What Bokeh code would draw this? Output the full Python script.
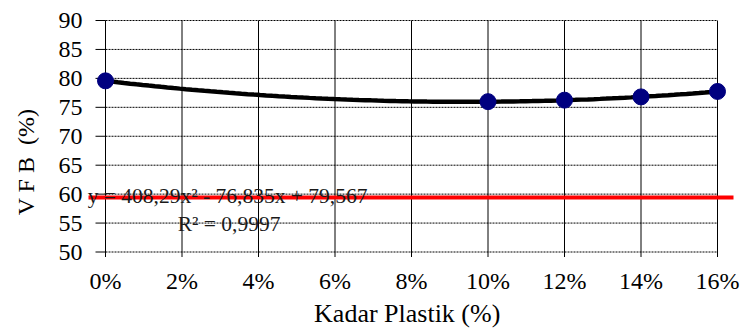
import numpy as np
from bokeh.plotting import figure
from bokeh.models import Range1d, Label
from bokeh.core.properties import value
from bokeh.embed import file_html
from bokeh.resources import INLINE

# data
kadar_plastik = [0.00, 0.10, 0.12, 0.14, 0.16]
vfb = [79.57, 75.98, 76.24, 76.80, 77.74]
trend_coef = [408.29, -76.835, 79.567]  # a x^2 + b x + c (Excel trendline)
batas_vfb = 59.4
x_ticks = [0.00, 0.02, 0.04, 0.06, 0.08, 0.10, 0.12, 0.14, 0.16]
x_tick_labels = ["0%", "2%", "4%", "6%", "8%", "10%", "12%", "14%", "16%"]
y_ticks = [50, 55, 60, 65, 70, 75, 80, 85, 90]
y_tick_labels = ["50", "55", "60", "65", "70", "75", "80", "85", "90"]
eq_text = "y = 408,29x\u00b2 - 76,835x + 79,567"
r2_text = "R\u00b2 = 0,9997"
y_title = "V F B \u00a0(%)"
x_title = "Kadar Plastik (%)"

FONT = value("Liberation Serif")
W, H = 741, 328
# pixel layout of the data grid inside the canvas
GX0, GX1, GY0, GY1 = 105, 717, 20, 251.5
sx = (x_ticks[-1] - x_ticks[0]) / (GX1 - GX0)      # data per px (x)
sy = (y_ticks[-1] - y_ticks[0]) / (GY1 - GY0)      # data per px (y)
X_LO = x_ticks[0] - GX0 * sx
X_HI = x_ticks[-1] + (W - GX1) * sx
Y_HI = y_ticks[-1] + GY0 * sy
Y_LO = y_ticks[0] - (H - GY1) * sy

p = figure(width=W, height=H, output_backend="svg", toolbar_location=None, title=None,
           x_range=Range1d(X_LO, X_HI), y_range=Range1d(Y_LO, Y_HI),
           x_axis_type=None, y_axis_type=None,
           min_border_left=0, min_border_right=0, min_border_top=0, min_border_bottom=0)
p.outline_line_color = None
p.background_fill_color = "white"
p.grid.visible = False

n = len(x_ticks)
m = len(y_ticks)
# vertical grid lines (solid)
p.segment(x0=x_ticks, x1=x_ticks, y0=[y_ticks[0]] * n, y1=[y_ticks[-1]] * n,
          line_color="black", line_width=1)
# x tick marks
p.segment(x0=x_ticks, x1=x_ticks, y0=[y_ticks[0]] * n, y1=[y_ticks[0] - 5 * sy] * n,
          line_color="black", line_width=1)
# horizontal grid lines (dotted)
p.segment(x0=[x_ticks[0]] * m, x1=[x_ticks[-1]] * m, y0=y_ticks, y1=y_ticks,
          line_color="black", line_dash="2 1", line_width=1)
# y tick marks
p.segment(x0=[x_ticks[0] - 10 * sx] * m, x1=[x_ticks[0]] * m, y0=y_ticks, y1=y_ticks,
          line_color="black", line_width=1)

# tick labels
p.text(x=[x_ticks[0] - 23 * sx] * m, y=y_ticks, text=y_tick_labels,
       text_align="right", text_baseline="middle", text_font=FONT,
       text_font_size="24px", text_color="black")
p.text(x=x_ticks, y=[y_ticks[0] - 28.5 * sy] * n, text=x_tick_labels,
       text_align="center", text_baseline="middle", text_font=FONT,
       text_font_size="24px", text_color="black")

# axis titles
p.text(x=[x_ticks[0] + 301.7 * sx], y=[y_ticks[0] - 61.5 * sy], text=[x_title],
       text_align="center", text_baseline="middle", text_font=FONT,
       text_font_size="26px", text_color="black")
p.text(x=[x_ticks[0] - 80 * sx], y=[y_ticks[-1] - 141.5 * sy], text=[y_title],
       angle=np.pi / 2, text_align="center", text_baseline="middle", text_font=FONT,
       text_font_size="24px", text_color="black")

# trendline from displayed coefficients
xs = np.linspace(x_ticks[0], x_ticks[-1], 100)
ys = np.polyval(trend_coef, xs)
p.line(xs, ys, line_color="black", line_width=4.5)

p.scatter(kadar_plastik, vfb, size=16, fill_color="#000080", line_color="#000080")

# red threshold line
p.segment(x0=[x_ticks[0] - 17 * sx], x1=[x_ticks[-1] + 16 * sx], y0=[batas_vfb], y1=[batas_vfb],
          line_color="#ff0000", line_width=4)

# trendline equation
p.add_layout(Label(x=0.0319, y=59.6, text=eq_text, text_align="center", text_baseline="middle",
                   text_font="Liberation Serif", text_font_size="21.5px", text_color="#1a1a1a"))
p.add_layout(Label(x=0.0323, y=54.9, text=r2_text, text_align="center", text_baseline="middle",
                   text_font="Liberation Serif", text_font_size="21.5px", text_color="#1a1a1a"))

open("out.html", "w").write(file_html(p, INLINE))
